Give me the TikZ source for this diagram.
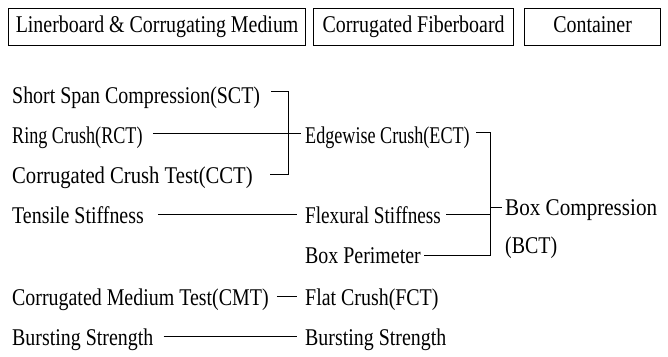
\documentclass[tikz,border=0pt]{standalone}
\usepackage{fontspec}
\setmainfont{Liberation Serif}[FakeStretch=0.83]
\newfontfamily\fsnarrow{Liberation Serif}[FakeStretch=0.755]
\newfontfamily\fsmid{Liberation Serif}[FakeStretch=0.80]
\newfontfamily\fswideA{Liberation Serif}[FakeStretch=0.86]
\newfontfamily\fswideB{Liberation Serif}[FakeStretch=0.88]
\begin{document}
\begin{tikzpicture}[x=1pt,y=-1pt,
  lbl/.style={anchor=base west, inner sep=0pt, font=\fontsize{24}{26}\selectfont},
  hdr/.style={draw, line width=1.2pt, inner sep=0pt, minimum height=37pt, anchor=north west,
    font=\fontsize{24}{26}\selectfont, text height=16pt, text depth=5pt},
  conn/.style={line width=0.8pt}]
\useasboundingbox (0,0) rectangle (668,356);
% headers
\node[hdr, minimum width=297pt] (h1) at (8,8) {Linerboard \& Corrugating Medium};
\node[hdr, minimum width=200pt] (h2) at (313,8) {Corrugated Fiberboard};
\node[hdr, minimum width=136pt] (h3) at (524,8) {Container};
% left column
\node[lbl] (sct) at (12,103) {Short Span Compression(SCT)};
\node[lbl, font=\fontsize{24}{26}\fsnarrow] (rct) at (12,143) {Ring Crush(RCT)};
\node[lbl, font=\fontsize{24}{26}\fswideA] (cct) at (12,183) {Corrugated Crush Test(CCT)};
\node[lbl] (ts) at (12,223) {Tensile Stiffness};
\node[lbl] (cmt) at (12,305) {Corrugated Medium Test(CMT)};
\node[lbl] (bs1) at (12,345) {Bursting Strength};
% middle column
\node[lbl, font=\fontsize{24}{26}\fsnarrow] (ect) at (305,143) {Edgewise Crush(ECT)};
\node[lbl, font=\fontsize{24}{26}\fsmid] (fs) at (305,223) {Flexural Stiffness};
\node[lbl] (bp) at (305,263) {Box Perimeter};
\node[lbl] (fct) at (305,305) {Flat Crush(FCT)};
\node[lbl] (bs2) at (305,345) {Bursting Strength};
% right column
\node[lbl, font=\fontsize{24}{26}\fswideB] (bct) at (505,215) {Box Compression};
\node[lbl] (bct2) at (505,253) {(BCT)};
% bracket corners
\coordinate (kt) at (288,91);
\coordinate (kb) at (288,174);
\coordinate (mt) at (490,132);
\coordinate (mb) at (490,255);
\coordinate (mf) at (490,214);
\coordinate (ms) at (490,207);
% connectors
\draw[conn] ([xshift=-17pt]kt) -- (kt) -- (kb) -- ([xshift=-18pt]kb);
\draw[conn] ([xshift=10pt,yshift=10pt]rct.base east) -- ([xshift=-4pt,yshift=10pt]ect.base west);
\draw[conn] ([xshift=-14pt]mt) -- (mt) -- (mb) -- ([xshift=3pt,yshift=8pt]bp.base east);
\draw[conn] ([xshift=5pt,yshift=9pt]fs.base east) -- (mf);
\draw[conn] (ms) -- ([xshift=-3pt,yshift=8pt]bct.base west);
\draw[conn] ([xshift=14pt,yshift=9pt]ts.base east) -- ([xshift=-8pt,yshift=9pt]fs.base west);
\draw[conn] ([xshift=8pt,yshift=9pt]cmt.base east) -- ([xshift=-8pt,yshift=9pt]fct.base west);
\draw[conn] ([xshift=10pt,yshift=9pt]bs1.base east) -- ([xshift=-8pt,yshift=9pt]bs2.base west);
\end{tikzpicture}
\end{document}
